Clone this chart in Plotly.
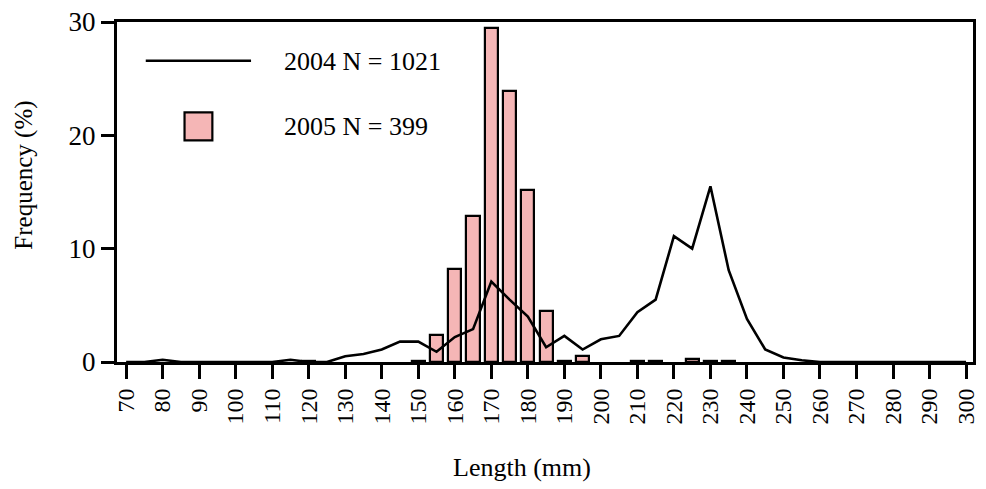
import plotly.graph_objects as go

# 2004 length-frequency (line), 5 mm bins
len_2004 = list(range(70, 305, 5))
freq_2004 = [0, 0, 0.2, 0, 0, 0, 0, 0, 0, 0.2, 0, 0, 0.5, 0.7, 1.1, 1.8, 1.8, 0.9,
             2.2, 2.9, 7.1, 5.5, 4.0, 1.3, 2.3, 1.1, 2.0, 2.3, 4.4, 5.5, 11.1, 10.0,
             15.5, 8.1, 3.8, 1.1, 0.4, 0.15, 0, 0, 0, 0, 0, 0, 0, 0, 0]

# 2005 length-frequency (bars)
len_2005 = [120, 150, 155, 160, 165, 170, 175, 180, 185, 190, 195, 210, 215, 225, 230, 235]
freq_2005 = [0.1, 0.1, 2.4, 8.2, 12.9, 29.5, 23.9, 15.2, 4.5, 0.1, 0.55, 0.1, 0.1, 0.3, 0.1, 0.1]

x_ticks = list(range(70, 310, 10))
y_ticks = [0, 10, 20, 30]

label_2004 = "2004 N = 1021"
label_2005 = "2005 N = 399"

FONT = "Liberation Serif, Times New Roman, serif"
PINK = "#F5B6B6"

fig = go.Figure()
fig.add_trace(go.Bar(
    x=len_2005, y=freq_2005, width=3.6,
    marker=dict(color=PINK, line=dict(color="black", width=2.2)),
    name=label_2005, showlegend=False,
))
fig.add_trace(go.Scatter(
    x=len_2004, y=freq_2004, mode="lines",
    line=dict(color="black", width=2.6),
    name=label_2004, showlegend=False,
))

# manual legend
fig.add_shape(type="line", xref="paper", yref="paper", x0=0.0336, x1=0.1566, y0=0.886, y1=0.886,
              line=dict(color="black", width=2.6))
fig.add_shape(type="rect", xref="paper", yref="paper", x0=0.0789, x1=0.1114, y0=0.652, y1=0.734,
              line=dict(color="black", width=2.2), fillcolor=PINK)
fig.add_annotation(text=label_2004, xref="paper", yref="paper", x=0.1926, y=0.883,
                   xanchor="left", yanchor="middle", showarrow=False,
                   font=dict(family=FONT, size=26, color="black"))
fig.add_annotation(text=label_2005, xref="paper", yref="paper", x=0.1926, y=0.693,
                   xanchor="left", yanchor="middle", showarrow=False,
                   font=dict(family=FONT, size=26, color="black"))

# axis titles
fig.add_annotation(text="Length (mm)", xref="paper", yref="paper", x=0.473, y=-0.31,
                   xanchor="center", yanchor="middle", showarrow=False,
                   font=dict(family=FONT, size=26, color="black"))
fig.add_annotation(text="Frequency (%)", xref="paper", yref="paper", x=-0.109, y=0.55,
                   xanchor="center", yanchor="middle", showarrow=False, textangle=-90,
                   font=dict(family=FONT, size=25, color="black"))

fig.update_layout(
    width=986, height=489,
    margin=dict(l=117, r=7, t=20, b=127),
    paper_bgcolor="white", plot_bgcolor="white",
    font=dict(family=FONT, size=24, color="black"),
    bargap=0,
    xaxis=dict(
        range=[67.5, 301.9], tickmode="array", tickvals=x_ticks,
        ticktext=[str(v) for v in x_ticks], tickangle=-90,
        ticks="outside", ticklen=14, tickwidth=2.5, tickcolor="black",
        showline=True, linecolor="black", linewidth=3, mirror=True,
        showgrid=False, zeroline=False,
        tickfont=dict(family=FONT, size=24),
    ),
    yaxis=dict(
        range=[0, 30], tickmode="array", tickvals=y_ticks,
        ticks="outside", ticklen=13, tickwidth=2.5, tickcolor="black",
        showline=True, linecolor="black", linewidth=3, mirror=True,
        showgrid=False, zeroline=False,
        tickfont=dict(family=FONT, size=27),
    ),
)

fig.write_html("out.html")
